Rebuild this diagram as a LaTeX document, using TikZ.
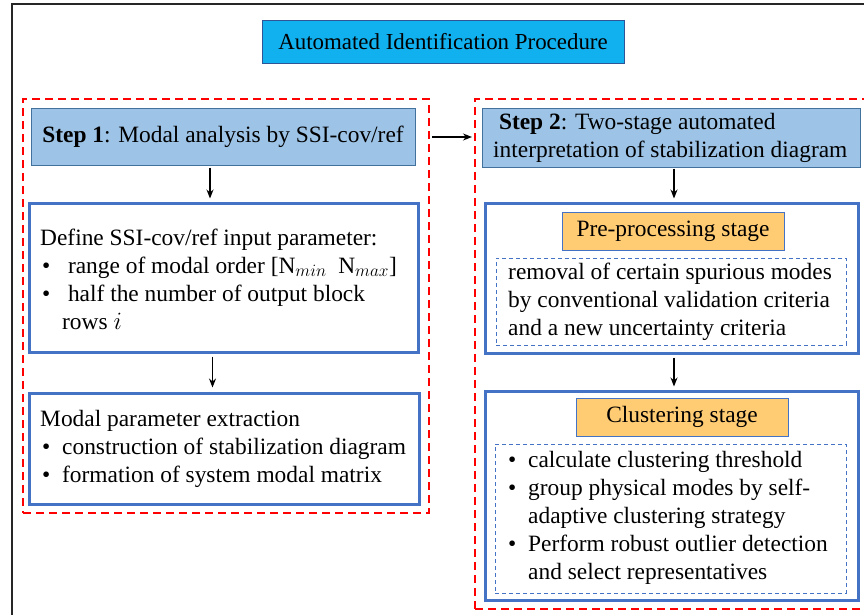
\documentclass[tikz,border=0pt]{standalone}
\usepackage{fontspec}
\setmainfont{Liberation Serif}
\usetikzlibrary{arrows.meta}
\definecolor{titlecyan}{HTML}{11B0EE}
\definecolor{titleborder}{HTML}{2F5597}
\definecolor{stepfill}{HTML}{9DC3E6}
\definecolor{stepborder}{HTML}{41719C}
\definecolor{blueb}{HTML}{4472C4}
\definecolor{orangef}{HTML}{FFCB73}
\definecolor{redc}{HTML}{FF0000}
\newcommand{\bulitem}{\hspace*{2pt}\makebox[20pt][l]{\textbullet}}
\tikzset{
  redbox/.style={draw=redc, line width=2.2pt, dash pattern=on 8pt off 5pt, inner sep=0pt},
  titlebox/.style={draw=titleborder, fill=titlecyan, line width=0.8pt, inner sep=0pt},
  stepbox/.style={draw=stepborder, fill=stepfill, line width=1pt, inner sep=0pt},
  bluebox/.style={draw=blueb, line width=3pt, inner sep=0pt},
  stagebox/.style={draw=blueb, fill=orangef, line width=1pt, inner sep=0pt},
  dashbox/.style={draw=blueb, line width=1pt, dash pattern=on 4pt off 3pt, inner sep=0pt},
  txt/.style={align=left, inner sep=0pt, anchor=west},
  arr/.style={-{Stealth[length=9pt,width=7pt]}, line width=1.3pt, black},
}
\begin{document}
\begin{tikzpicture}[x=1pt,y=-1pt, font=\fontsize{23.4}{28}\selectfont]
\useasboundingbox (0,0) rectangle (864,615);
\clip (0,0) rectangle (864,615);
% outer frame
\draw[line width=2pt, black!85] (12,615) -- (12,4) -- (870,4);
% title
\node[titlebox, minimum width=362pt, minimum height=43pt, font=\fontsize{22.9}{28}\selectfont] (title) at (443,41.5) {Automated Identification Procedure};
% red dashed groups
\node[redbox, minimum width=406pt, minimum height=414pt, anchor=north west] (lred) at (22,98) {};
\node[redbox, minimum width=430pt, minimum height=510pt, anchor=north west] (rred) at (474,98) {};
% step 1 column
\node[stepbox, minimum width=384pt, minimum height=56pt] (s1) at (223,137) {\textbf{Step 1}: Modal analysis by SSI-cov/ref};
\node[bluebox, minimum width=389pt, minimum height=149pt] (def) at (223.5,277.5) {};
\node[txt] (deft) at (40,279) {Define SSI-cov/ref input parameter:\\
\bulitem\ range of modal order [N$_{min}$\ \ N$_{max}$]\\
\bulitem\ half the number of output block\\
\hspace*{22pt}rows $i$};
\node[bluebox, minimum width=390pt, minimum height=111pt] (mod) at (224,448.5) {};
\node[txt] (modt) at (40,449) {Modal parameter extraction\\
\bulitem construction of stabilization diagram\\
\bulitem formation of system modal matrix};
% step 2 column
\node[stepbox, minimum width=378pt, minimum height=58pt] (s2) at (671,138) {};
\node[txt] (s2t) at (493,138) {\ \textbf{Step 2}: Two-stage automated\\interpretation of stabilization diagram};
\node[bluebox, minimum width=373pt, minimum height=150pt] (pre) at (671.5,278) {};
\node[stagebox, minimum width=222pt, minimum height=38pt] (prel) at (673,231) {Pre-processing stage};
\node[dashbox, minimum width=350pt, minimum height=87pt] (pred) at (671,301.5) {};
\node[txt] (pret) at (508,301.5) {removal of certain spurious modes\\
by conventional validation criteria\\
and a new uncertainty criteria};
\node[bluebox, minimum width=373pt, minimum height=209pt] (clu) at (671.5,495.5) {};
\node[stagebox, minimum width=212pt, minimum height=38pt] (clul) at (682,417) {Clustering stage};
\node[dashbox, minimum width=351pt, minimum height=149pt] (clud) at (670.5,518.5) {};
\node[txt] (clut) at (506,518) {\bulitem calculate clustering threshold\\
\bulitem group physical modes by self-\\
\hspace*{22pt}adaptive clustering strategy\\
\bulitem Perform robust outlier detection\\
\hspace*{22pt}and select representatives};
% arrows
\coordinate (a1) at (210,0);
\coordinate (a2) at (212.5,0);
\coordinate (a3) at (674,0);
\draw[arr] ([yshift=-2pt]s1.south -| a1) -- ([yshift=3pt]def.north -| a1);
\draw[arr] ([yshift=-3pt]def.south -| a2) -- ([yshift=4pt]mod.north -| a2);
\draw[arr] ([xshift=2pt]lred.east |- s1.east) -- ([xshift=-2pt]rred.west |- s1.east);
\draw[arr] ([yshift=-1pt]s2.south -| a3) -- ([yshift=3pt]pre.north -| a3);
\draw[arr] ([yshift=-3pt]pre.south -| a3) -- ([yshift=3pt]clu.north -| a3);
\end{tikzpicture}
\end{document}
